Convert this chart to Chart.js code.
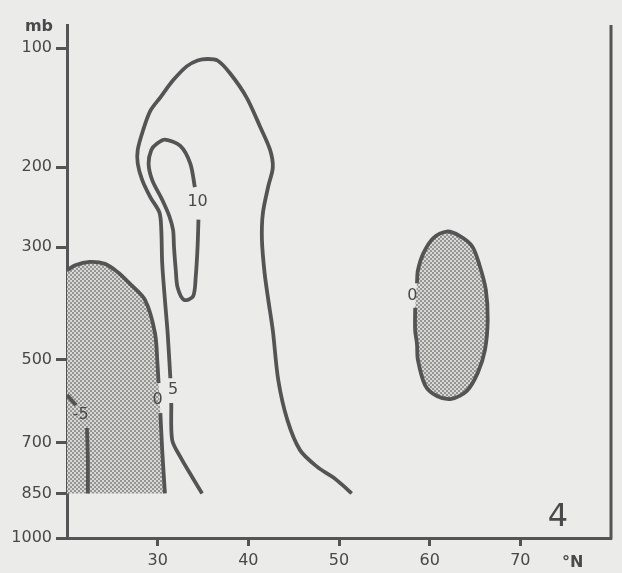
<!DOCTYPE html>
<html>
<head>
<meta charset="utf-8">
<script src="https://cdn.jsdelivr.net/npm/chart.js@4.4.0/dist/chart.umd.min.js"></script>
<style>
  html, body { margin: 0; padding: 0; background: #ebebe9; }
  canvas { display: block; }
</style>
</head>
<body>
<canvas id="chart" width="622" height="573"></canvas>
<script>
// axis ticks
const latTicks = [30, 40, 50, 60, 70];
const pressureTicks = [100, 200, 300, 500, 700, 850, 1000];

// contour lines: latitude (°N) and pressure (mb), null = break for the label
const c5Lat = [34.9, 33.8, 32.5, 31.6, 31.5, null, 31.4, 31.1, 30.8, 30.5, 30.4, 30.2, 29.2, 28.3, 27.8, 27.8, 28.4, 29.2, 30.3, 31.7, 33.2, 34.4, 35.5, 36.6, 38.0, 39.8, 41.3, 42.4, 42.7, 42.2, 41.6, 41.5, 41.8, 42.2, 42.7, 43.3, 44.3, 45.7, 47.6, 49.3, 50.4, 51.4];
const c5P   = [850, 799, 740, 693, 598, null, 540, 445, 384, 324, 276, 253, 234, 214, 196, 182, 163, 146, 135, 122, 112, 108, 107, 108, 117, 135, 160, 182, 200, 221, 254, 290, 340, 384, 440, 544, 640, 721, 769, 799, 824, 850];

const c10Lat = [34.5, 34.4, 34.2, 33.9, 32.9, 32.2, 32.0, 31.8, 31.7, 31.3, 30.5, 29.4, 29.0, 29.3, 29.9, 30.8, 32.5, 33.6, 34.1];
const c10P   = [262, 300, 345, 378, 384, 363, 335, 300, 276, 258, 237, 214, 196, 182, 176, 172, 178, 196, 222];

const c0WestLat = [20.0, 20.9, 22.5, 24.2, 25.6, 26.9, 28.6, 29.7, 30.0, 30.1, null, 30.3, 30.5, 30.8];
const c0WestP   = [335, 327, 322, 325, 338, 356, 384, 445, 515, 551, null, 623, 721, 850];

const cm5Lat = [20.0, 21.0, null, 22.2, 22.3, 22.3];
const cm5P   = [579, 603, null, 661, 749, 850];

const c0EastLat = [58.4, 58.4, 58.6, 58.7, 59.5, 60.8, 62.4, 64.1, 65.3, 66.1, 66.4, 66.2, 65.5, 64.7, 63.3, 61.9, 60.4, 59.3, 58.7, 58.6];
const c0EastP   = [398, 440, 467, 500, 556, 581, 588, 569, 528, 479, 420, 367, 327, 299, 284, 278, 287, 309, 335, 356];

// contour labels
const labelText = ['10', '5', '0', '-5', '0'];
const labelLat  = [34.4, 31.7, 30.0, 21.5, 58.1];
const labelP    = [240, 567, 591, 628, 377];

const ink = '#545454';
const font = 'DejaVu Sans';

const toPts = (lats, ps) => lats.map((x, i) => ({ x: x, y: ps[i] }));
const noGaps = (arr) => arr.filter(v => v !== null);

// y axis spaced like p^0.25
class PressureScale extends Chart.LinearScale {
  getPixelForValue(value) {
    const a = Math.pow(this.min, 0.25), b = Math.pow(this.max, 0.25);
    return this.getPixelForDecimal((Math.pow(value, 0.25) - a) / (b - a));
  }
  getValueForPixel(pixel) {
    const a = Math.pow(this.min, 0.25), b = Math.pow(this.max, 0.25);
    return Math.pow(a + this.getDecimalForPixel(pixel) * (b - a), 4);
  }
}
PressureScale.id = 'pressure';
PressureScale.defaults = Chart.LinearScale.defaults;
Chart.register(PressureScale);

// stipple for the negative areas
const pc = document.createElement('canvas');
pc.width = 4; pc.height = 4;
const pg = pc.getContext('2d');
pg.fillStyle = '#d8d8d6';
pg.fillRect(0, 0, 4, 4);
pg.fillStyle = '#959593';
pg.fillRect(0, 0, 2, 2);
pg.fillRect(2, 2, 2, 2);
const stipple = document.getElementById('chart').getContext('2d').createPattern(pc, 'repeat');

function line(lats, ps) {
  return {
    data: toPts(lats, ps),
    showLine: true,
    borderColor: ink,
    borderWidth: 3.8,
    pointRadius: 0,
    tension: 0.3,
    fill: false
  };
}
function shade(lats, ps) {
  return {
    data: toPts(lats, ps),
    showLine: true,
    borderColor: 'transparent',
    borderWidth: 0,
    backgroundColor: stipple,
    pointRadius: 0,
    tension: 0,
    fill: 'shape'
  };
}

const extras = {
  id: 'extras',
  afterDraw(chart) {
    const ctx = chart.ctx;
    const a = chart.chartArea;
    const x = chart.scales.x, y = chart.scales.y;
    ctx.save();
    // right frame line
    ctx.strokeStyle = ink;
    ctx.lineWidth = 3;
    ctx.beginPath();
    ctx.moveTo(a.right, a.top);
    ctx.lineTo(a.right, a.bottom + 1.5);
    ctx.stroke();

    ctx.fillStyle = '#4a4a4a';
    ctx.textBaseline = 'middle';
    ctx.textAlign = 'center';
    ctx.font = '16px "' + font + '"';
    labelText.forEach((t, i) => {
      ctx.fillText(t, x.getPixelForValue(labelLat[i]), y.getPixelForValue(labelP[i]));
    });

    ctx.font = 'bold 16px "' + font + '"';
    ctx.textAlign = 'right';
    ctx.fillText('mb', a.left - 14, a.top + 2);

    ctx.font = 'bold 16px "' + font + '"';
    ctx.textAlign = 'left';
    ctx.fillText('°N', a.right - 49, a.bottom + 25);

    ctx.font = '32px "' + font + '"';
    ctx.textAlign = 'center';
    ctx.fillText('4', a.right - 53, a.bottom - 20);
    ctx.restore();
  }
};

new Chart(document.getElementById('chart'), {
  type: 'scatter',
  data: {
    datasets: [
      line(c5Lat, c5P),
      line(c10Lat, c10P),
      line(c0WestLat, c0WestP),
      line(cm5Lat, cm5P),
      line(c0EastLat, c0EastP),
      shade(noGaps(c0WestLat).concat([20]), noGaps(c0WestP).concat([850])),
      shade(c0EastLat, c0EastP)
    ]
  },
  options: {
    responsive: false,
    animation: false,
    devicePixelRatio: 1,
    layout: { padding: { top: 25, right: 11, left: 0, bottom: 0 } },
    plugins: { legend: { display: false }, tooltip: { enabled: false } },
    scales: {
      x: {
        type: 'linear',
        min: 20,
        max: 80,
        afterBuildTicks: s => { s.ticks = latTicks.map(v => ({ value: v })); },
        afterFit: s => { s.height = 35; },
        grid: { drawOnChartArea: false, tickLength: 8, tickWidth: 3, tickColor: ink },
        border: { color: ink, width: 3 },
        ticks: { color: '#484848', padding: 5, font: { family: font, size: 16 } }
      },
      y: {
        type: 'pressure',
        reverse: true,
        min: 86,
        max: 1000,
        afterBuildTicks: s => { s.ticks = pressureTicks.map(v => ({ value: v })); },
        afterFit: s => { s.width = 67; },
        grid: { drawOnChartArea: false, tickLength: 11, tickWidth: 3, tickColor: ink },
        border: { color: ink, width: 3 },
        ticks: { color: '#484848', padding: 4, callback: v => String(v), font: { family: font, size: 16 } }
      }
    }
  },
  plugins: [extras]
});
</script>
</body>
</html>
